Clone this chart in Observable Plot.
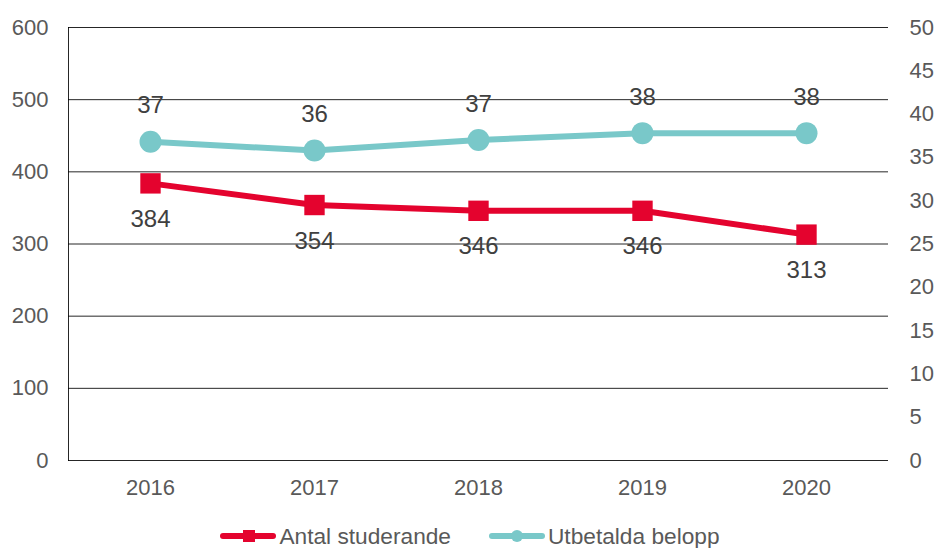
<!DOCTYPE html>
<html>
<head>
<meta charset="utf-8">
<script src="https://cdn.jsdelivr.net/npm/d3@7"></script>
<script src="https://cdn.jsdelivr.net/npm/@observablehq/plot@0.6"></script>
<style>
  body { margin: 0; background: #fff; font-family: "Liberation Sans", Arial, sans-serif; }
  #wrap { position: relative; width: 940px; height: 548px; }
  #legend { position: absolute; left: 0; top: 521px; width: 940px; height: 30px; display: flex; justify-content: center; align-items: center; gap: 38px; font-size: 22.7px; color: #595959; }
  .item { display: flex; align-items: center; }
  .item svg { margin-right: 3px; }
</style>
</head>
<body>
<div id="wrap"><div id="chart"></div><div id="legend"></div></div>
<script>
const years = ["2016", "2017", "2018", "2019", "2020"];
const students = [384, 354, 346, 346, 313];
const payments = [36.8, 35.8, 37.0, 37.8, 37.8];
const paymentLabels = ["37", "36", "37", "38", "38"];
const leftTicks = [0, 100, 200, 300, 400, 500, 600];
const rightTicks = [0, 5, 10, 15, 20, 25, 30, 35, 40, 45, 50];
const seriesNames = ["Antal studerande", "Utbetalda belopp"];
const red = "#e4032e";
const teal = "#79c8c9";
const ratio = 600 / 50;
const fs = 22;
const lfs = 24;

const studentData = years.map((y, i) => ({year: y, value: students[i], label: String(students[i])}));
const paymentData = years.map((y, i) => ({year: y, value: payments[i] * ratio, label: paymentLabels[i]}));

const chart = Plot.plot({
  width: 940,
  height: 500,
  marginTop: 27,
  marginBottom: 40,
  marginLeft: 68,
  marginRight: 52,
  style: {fontFamily: "Liberation Sans, Arial, sans-serif", fontSize: fs + "px", color: "#595959", background: "#fff"},
  x: {type: "point", domain: years, padding: 0.5, label: null},
  y: {domain: [0, 600], label: null},
  marks: [
    Plot.ruleY(leftTicks, {stroke: "#000", strokeWidth: 1, strokeOpacity: 0.85}),
    Plot.frame({anchor: "left", stroke: "#000", strokeOpacity: 0.85}),
    Plot.axisY(leftTicks, {anchor: "left", label: null, tickSize: 0, tickPadding: 20, fontSize: fs, fill: "#595959"}),
    Plot.axisY(rightTicks.map(d => d * ratio), {anchor: "right", label: null, tickSize: 0, tickPadding: 21, fontSize: fs, fill: "#595959", tickFormat: d => String(Math.round(d / ratio))}),
    Plot.axisX(years, {anchor: "bottom", label: null, tickSize: 0, tickPadding: 19, fontSize: fs, fill: "#595959"}),
    Plot.line(paymentData, {x: "year", y: "value", stroke: teal, strokeWidth: 6}),
    Plot.dot(paymentData, {x: "year", y: "value", r: 11, fill: teal, stroke: "none"}),
    Plot.line(studentData, {x: "year", y: "value", stroke: red, strokeWidth: 6}),
    Plot.dot(studentData, {x: "year", y: "value", symbol: "square", r: 11.5, fill: red, stroke: "none"}),
    Plot.text(paymentData, {x: "year", y: "value", text: "label", dy: -36, fontSize: lfs, fill: "#404040"}),
    Plot.text(studentData, {x: "year", y: "value", text: "label", dy: 36, fontSize: lfs, fill: "#404040"})
  ]
});
document.getElementById("chart").appendChild(chart);

const legend = document.getElementById("legend");
const swatches = [
  `<svg width="56" height="20"><line x1="3" y1="10" x2="53" y2="10" stroke="${red}" stroke-width="6" stroke-linecap="round"/><rect x="23" y="4" width="12" height="12" fill="${red}"/></svg>`,
  `<svg width="56" height="20"><line x1="3" y1="10" x2="53" y2="10" stroke="${teal}" stroke-width="6" stroke-linecap="round"/><circle cx="28" cy="10" r="6" fill="${teal}"/></svg>`
];
seriesNames.forEach((name, i) => {
  const el = document.createElement("div");
  el.className = "item";
  el.innerHTML = swatches[i] + `<span>${name}</span>`;
  legend.appendChild(el);
});
</script>
</body>
</html>
